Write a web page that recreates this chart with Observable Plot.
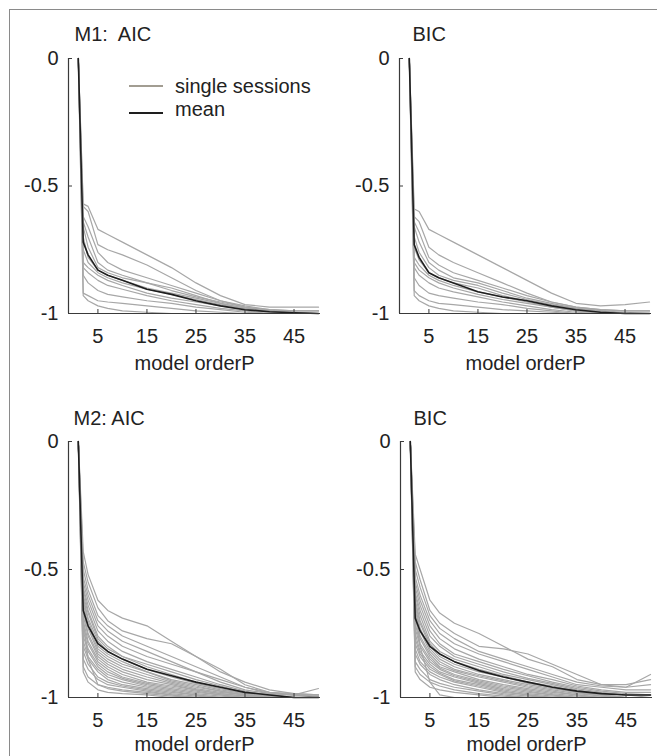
<!DOCTYPE html>
<html>
<head>
<meta charset="utf-8">
<script src="https://cdn.jsdelivr.net/npm/d3@7"></script>
<script src="https://cdn.jsdelivr.net/npm/@observablehq/plot@0.6"></script>
<style>
  html, body { margin: 0; padding: 0; background: #fff; }
  #wrap { position: relative; width: 657px; height: 756px; overflow: hidden; font-family: "Liberation Sans", Arial, sans-serif; }
  #border { position: absolute; left: 9px; top: 9px; width: 700px; height: 800px; border-left: 1px solid #8a8a8a; border-top: 1px solid #8a8a8a; }
  .panel { position: absolute; }
  svg text { white-space: pre; }
  .leg { position: absolute; font-size: 20px; color: #222; white-space: nowrap; }
  .legline { position: absolute; height: 2px; }
</style>
</head>
<body>
<div id="wrap">
  <div id="border"></div>
</div>
<script>
// ---------- data ----------
const X_KNOTS = [1, 2, 3, 5, 7, 10, 15, 20, 25, 30, 35, 40, 45, 50];
const X_TICKS = [5, 15, 25, 35, 45];
const X_TICK_LABELS = ["5", "15", "25", "35", "45"];
const Y_TICKS = [-1, -0.5, 0];
const Y_TICK_LABELS = ["-1", "-0.5", "0"];
const X_LABEL = "model orderP";
const TITLES = ["M1:  AIC", "BIC", "M2: AIC", "BIC"];
const LEGEND_LABELS = ["single sessions", "mean"];

const M1_AIC_SESSIONS = [
  [0,-0.57,-0.58,-0.67,-0.69,-0.72,-0.77,-0.82,-0.88,-0.93,-0.965,-0.975,-0.975,-0.975],
  [0,-0.58,-0.60,-0.73,-0.75,-0.77,-0.81,-0.86,-0.91,-0.95,-0.975,-0.985,-0.99,-0.99],
  [0,-0.62,-0.66,-0.76,-0.80,-0.83,-0.86,-0.89,-0.92,-0.95,-0.97,-0.985,-0.99,-0.99],
  [0,-0.64,-0.70,-0.80,-0.83,-0.85,-0.88,-0.90,-0.93,-0.96,-0.98,-0.99,-0.995,-1],
  [0,-0.66,-0.74,-0.82,-0.84,-0.86,-0.88,-0.91,-0.935,-0.955,-0.975,-0.99,-0.995,-1],
  [0,-0.70,-0.78,-0.83,-0.85,-0.87,-0.90,-0.92,-0.94,-0.96,-0.98,-0.99,-1,-1],
  [0,-0.75,-0.80,-0.84,-0.86,-0.88,-0.905,-0.925,-0.945,-0.965,-0.98,-0.99,-1,-1],
  [0,-0.80,-0.82,-0.85,-0.87,-0.89,-0.92,-0.94,-0.955,-0.97,-0.985,-0.995,-1,-1],
  [0,-0.82,-0.84,-0.87,-0.89,-0.905,-0.93,-0.95,-0.965,-0.98,-0.99,-1,-1,-1],
  [0,-0.85,-0.88,-0.91,-0.925,-0.935,-0.95,-0.96,-0.975,-0.985,-0.995,-1,-1,-1],
  [0,-0.92,-0.93,-0.95,-0.955,-0.96,-0.97,-0.98,-0.99,-0.995,-1,-1,-1,-1],
  [0,-0.93,-0.95,-0.97,-0.98,-0.99,-0.995,-1,-1,-1,-1,-1,-1,-1]
];
const M1_AIC_MEAN = [0,-0.72,-0.77,-0.83,-0.85,-0.87,-0.905,-0.925,-0.95,-0.97,-0.985,-0.993,-0.997,-1];

const M1_BIC_SESSIONS = [
  [0,-0.59,-0.60,-0.67,-0.69,-0.72,-0.77,-0.82,-0.87,-0.92,-0.96,-0.97,-0.965,-0.955],
  [0,-0.62,-0.64,-0.74,-0.77,-0.80,-0.84,-0.88,-0.92,-0.955,-0.975,-0.985,-0.99,-0.99],
  [0,-0.64,-0.68,-0.78,-0.81,-0.84,-0.87,-0.90,-0.93,-0.955,-0.975,-0.985,-0.99,-0.99],
  [0,-0.66,-0.72,-0.80,-0.83,-0.86,-0.88,-0.91,-0.94,-0.96,-0.98,-0.99,-0.995,-1],
  [0,-0.70,-0.76,-0.82,-0.85,-0.87,-0.89,-0.92,-0.945,-0.965,-0.98,-0.99,-1,-1],
  [0,-0.74,-0.79,-0.84,-0.86,-0.88,-0.90,-0.93,-0.95,-0.97,-0.985,-0.99,-1,-1],
  [0,-0.78,-0.81,-0.85,-0.87,-0.89,-0.915,-0.935,-0.955,-0.975,-0.99,-0.995,-1,-1],
  [0,-0.80,-0.83,-0.86,-0.88,-0.90,-0.925,-0.945,-0.96,-0.975,-0.99,-1,-1,-1],
  [0,-0.82,-0.85,-0.88,-0.90,-0.915,-0.935,-0.955,-0.97,-0.985,-0.995,-1,-1,-1],
  [0,-0.86,-0.89,-0.92,-0.93,-0.94,-0.955,-0.965,-0.98,-0.99,-1,-1,-1,-1],
  [0,-0.91,-0.93,-0.95,-0.96,-0.965,-0.975,-0.985,-0.99,-0.995,-1,-1,-1,-1],
  [0,-0.93,-0.95,-0.97,-0.98,-0.99,-0.995,-1,-1,-1,-1,-1,-1,-1]
];
const M1_BIC_MEAN = [0,-0.73,-0.78,-0.84,-0.86,-0.88,-0.915,-0.935,-0.95,-0.97,-0.985,-0.995,-1,-1];

const M2_AIC_SESSIONS = [
  [0,-0.43,-0.52,-0.62,-0.66,-0.69,-0.72,-0.78,-0.84,-0.89,-0.95,-0.98,-0.985,-0.99],
  [0,-0.47,-0.55,-0.65,-0.70,-0.74,-0.77,-0.79,-0.84,-0.90,-0.94,-0.97,-0.985,-0.99],
  [0,-0.50,-0.58,-0.68,-0.72,-0.76,-0.80,-0.84,-0.88,-0.92,-0.96,-0.98,-0.99,-0.99],
  [0,-0.53,-0.60,-0.70,-0.74,-0.78,-0.82,-0.86,-0.90,-0.93,-0.96,-0.985,-0.99,-0.995],
  [0,-0.55,-0.62,-0.72,-0.76,-0.80,-0.84,-0.87,-0.90,-0.94,-0.97,-0.985,-0.99,-0.965],
  [0,-0.57,-0.64,-0.74,-0.78,-0.82,-0.86,-0.89,-0.92,-0.95,-0.975,-0.99,-0.99,-1],
  [0,-0.58,-0.66,-0.76,-0.80,-0.84,-0.87,-0.90,-0.93,-0.955,-0.98,-0.99,-1,-1],
  [0,-0.60,-0.67,-0.77,-0.81,-0.84,-0.88,-0.91,-0.94,-0.96,-0.98,-0.99,-1,-1],
  [0,-0.61,-0.69,-0.78,-0.82,-0.85,-0.89,-0.92,-0.945,-0.965,-0.985,-0.995,-1,-1],
  [0,-0.62,-0.70,-0.80,-0.83,-0.86,-0.90,-0.93,-0.95,-0.97,-0.985,-0.995,-1,-1],
  [0,-0.63,-0.72,-0.81,-0.84,-0.87,-0.90,-0.935,-0.955,-0.975,-0.99,-1,-1,-1],
  [0,-0.65,-0.73,-0.82,-0.85,-0.88,-0.91,-0.94,-0.96,-0.975,-0.99,-1,-1,-1],
  [0,-0.66,-0.75,-0.83,-0.86,-0.89,-0.92,-0.945,-0.965,-0.98,-0.99,-1,-1,-1],
  [0,-0.68,-0.76,-0.84,-0.87,-0.90,-0.93,-0.95,-0.97,-0.985,-0.995,-1,-1,-1],
  [0,-0.70,-0.78,-0.85,-0.88,-0.91,-0.94,-0.955,-0.97,-0.985,-0.995,-1,-1,-1],
  [0,-0.72,-0.79,-0.86,-0.89,-0.92,-0.945,-0.96,-0.975,-0.99,-1,-1,-1,-1],
  [0,-0.74,-0.81,-0.87,-0.90,-0.925,-0.95,-0.965,-0.98,-0.99,-1,-1,-1,-1],
  [0,-0.76,-0.82,-0.88,-0.91,-0.93,-0.955,-0.97,-0.985,-0.995,-1,-1,-1,-1],
  [0,-0.78,-0.84,-0.89,-0.92,-0.94,-0.96,-0.975,-0.99,-1,-1,-1,-1,-1],
  [0,-0.80,-0.85,-0.90,-0.93,-0.95,-0.965,-0.98,-0.99,-1,-1,-1,-1,-1],
  [0,-0.82,-0.87,-0.92,-0.94,-0.955,-0.97,-0.985,-0.995,-1,-1,-1,-1,-1],
  [0,-0.85,-0.89,-0.93,-0.95,-0.96,-0.975,-0.99,-1,-1,-1,-1,-1,-1],
  [0,-0.70,-0.85,-0.95,-0.96,-0.97,-0.98,-0.99,-1,-1,-1,-1,-1,-1],
  [0,-0.88,-0.92,-0.95,-0.965,-0.975,-0.985,-0.995,-1,-1,-1,-1,-1,-1],
  [0,-0.90,-0.94,-0.97,-0.98,-0.985,-0.99,-1,-1,-1,-1,-1,-1,-1]
];
const M2_AIC_MEAN = [0,-0.66,-0.72,-0.79,-0.82,-0.85,-0.89,-0.915,-0.94,-0.96,-0.98,-0.99,-1,-1];

const M2_BIC_SESSIONS = [
  [0,-0.44,-0.50,-0.62,-0.67,-0.71,-0.75,-0.80,-0.85,-0.88,-0.93,-0.95,-0.95,-0.93],
  [0,-0.47,-0.54,-0.66,-0.71,-0.75,-0.80,-0.81,-0.83,-0.87,-0.91,-0.95,-0.96,-0.91],
  [0,-0.50,-0.57,-0.68,-0.73,-0.77,-0.82,-0.85,-0.88,-0.91,-0.94,-0.955,-0.96,-0.95],
  [0,-0.53,-0.60,-0.70,-0.75,-0.79,-0.83,-0.86,-0.89,-0.92,-0.95,-0.96,-0.97,-0.97],
  [0,-0.55,-0.62,-0.72,-0.77,-0.81,-0.85,-0.88,-0.91,-0.93,-0.955,-0.97,-0.98,-0.98],
  [0,-0.57,-0.64,-0.74,-0.79,-0.83,-0.86,-0.89,-0.915,-0.94,-0.96,-0.975,-0.985,-0.99],
  [0,-0.59,-0.66,-0.76,-0.80,-0.84,-0.87,-0.90,-0.925,-0.945,-0.965,-0.98,-0.99,-0.99],
  [0,-0.60,-0.68,-0.78,-0.82,-0.85,-0.88,-0.91,-0.93,-0.95,-0.97,-0.985,-0.99,-1],
  [0,-0.62,-0.70,-0.79,-0.83,-0.86,-0.89,-0.915,-0.94,-0.955,-0.975,-0.99,-1,-1],
  [0,-0.63,-0.71,-0.80,-0.84,-0.87,-0.90,-0.92,-0.945,-0.96,-0.98,-0.99,-1,-1],
  [0,-0.64,-0.73,-0.81,-0.85,-0.88,-0.91,-0.93,-0.95,-0.965,-0.98,-0.995,-1,-1],
  [0,-0.66,-0.74,-0.82,-0.86,-0.89,-0.915,-0.935,-0.955,-0.97,-0.985,-0.995,-1,-1],
  [0,-0.67,-0.76,-0.83,-0.87,-0.895,-0.92,-0.94,-0.96,-0.975,-0.99,-1,-1,-1],
  [0,-0.69,-0.77,-0.84,-0.88,-0.90,-0.93,-0.95,-0.965,-0.98,-0.99,-1,-1,-1],
  [0,-0.71,-0.79,-0.85,-0.885,-0.91,-0.935,-0.955,-0.97,-0.985,-0.995,-1,-1,-1],
  [0,-0.73,-0.80,-0.86,-0.89,-0.915,-0.94,-0.96,-0.975,-0.99,-1,-1,-1,-1],
  [0,-0.75,-0.82,-0.87,-0.90,-0.92,-0.945,-0.965,-0.98,-0.99,-1,-1,-1,-1],
  [0,-0.77,-0.83,-0.88,-0.905,-0.93,-0.95,-0.97,-0.985,-0.995,-1,-1,-1,-1],
  [0,-0.79,-0.84,-0.89,-0.91,-0.935,-0.955,-0.975,-0.99,-1,-1,-1,-1,-1],
  [0,-0.81,-0.86,-0.90,-0.92,-0.94,-0.96,-0.98,-0.99,-1,-1,-1,-1,-1],
  [0,-0.83,-0.87,-0.91,-0.93,-0.95,-0.97,-0.985,-0.995,-1,-1,-1,-1,-1],
  [0,-0.65,-0.80,-0.94,-0.99,-1,-1,-1,-1,-1,-1,-1,-1,-1],
  [0,-0.86,-0.89,-0.93,-0.945,-0.96,-0.975,-0.99,-1,-1,-1,-1,-1,-1],
  [0,-0.88,-0.91,-0.94,-0.955,-0.97,-0.985,-0.995,-1,-1,-1,-1,-1,-1],
  [0,-0.90,-0.93,-0.96,-0.97,-0.98,-0.99,-1,-1,-1,-1,-1,-1,-1]
];
const M2_BIC_MEAN = [0,-0.69,-0.74,-0.80,-0.83,-0.86,-0.895,-0.92,-0.94,-0.96,-0.975,-0.985,-0.99,-0.99];

const X_DOMAIN = [-1, 50.4];
const Y_DOMAIN = [-1, 0];

// ---------- drawing ----------
const SESSION_COLOR = "#a7a7a7";
const MEAN_COLOR = "#1e1e1e";
const AXIS_COLOR = "#3a3a3a";
const FONT = "'Liberation Sans', Arial, Helvetica, sans-serif";

function toRows(sessions) {
  return sessions.flatMap((s, i) => s.map((v, j) => ({x: X_KNOTS[j], y: v, id: i})));
}

function panel(cfg) {
  const rows = toRows(cfg.sessions);
  const meanRows = cfg.mean.map((v, j) => ({x: X_KNOTS[j], y: v}));
  const chart = Plot.plot({
    width: cfg.width,
    height: cfg.height,
    marginLeft: cfg.mL,
    marginRight: cfg.mR,
    marginTop: cfg.mT,
    marginBottom: cfg.mB,
    style: {fontFamily: FONT, fontSize: "20px", color: "#222", background: "transparent", overflow: "visible"},
    x: {domain: X_DOMAIN},
    y: {domain: Y_DOMAIN},
    marks: [
      Plot.line(rows, {x: "x", y: "y", z: "id", stroke: SESSION_COLOR, strokeWidth: 1.2}),
      Plot.line(meanRows, {x: "x", y: "y", stroke: MEAN_COLOR, strokeWidth: 1.6}),
      Plot.ruleY([Y_DOMAIN[0]], {stroke: AXIS_COLOR, strokeWidth: 1.2}),
      Plot.ruleX([X_DOMAIN[0]], {stroke: AXIS_COLOR, strokeWidth: 1.2}),
      Plot.axisX(X_TICKS, {tickSize: -4, tickPadding: 19, stroke: AXIS_COLOR, fill: "#222",
        tickFormat: d => X_TICK_LABELS[X_TICKS.indexOf(d)], label: null}),
      Plot.axisY(Y_TICKS, {tickSize: -4, tickPadding: 14, stroke: AXIS_COLOR, fill: "#222",
        tickFormat: d => Y_TICK_LABELS[Y_TICKS.indexOf(d)], label: null}),
      Plot.text([X_LABEL], {frameAnchor: "bottom", lineAnchor: "middle", dy: cfg.ldy, fill: "#222", fontSize: 20}),
      Plot.text([cfg.title], {frameAnchor: "top-left", lineAnchor: "middle", textAnchor: "start", dx: cfg.tdx, dy: cfg.tdy, fill: "#222", fontSize: 20})
    ]
  });
  chart.classList.add("panel");
  chart.style.left = cfg.left + "px";
  chart.style.top = cfg.top + "px";
  chart.style.position = "absolute";
  return chart;
}

const wrap = document.getElementById("wrap");
const cfgs = [
  {sessions: M1_AIC_SESSIONS, mean: M1_AIC_MEAN, title: TITLES[0], left: 0, top: 0, width: 330, height: 380, mL: 68, mR: 10, mT: 58, mB: 67, tdx: 6, tdy: -24, ldy: 50},
  {sessions: M1_BIC_SESSIONS, mean: M1_BIC_MEAN, title: TITLES[1], left: 330, top: 0, width: 327, height: 380, mL: 69, mR: 6, mT: 58, mB: 67, tdx: 13, tdy: -24, ldy: 50},
  {sessions: M2_AIC_SESSIONS, mean: M2_AIC_MEAN, title: TITLES[2], left: 0, top: 380, width: 330, height: 376, mL: 68, mR: 10, mT: 61, mB: 59, tdx: 5, tdy: -23, ldy: 47},
  {sessions: M2_BIC_SESSIONS, mean: M2_BIC_MEAN, title: TITLES[3], left: 330, top: 380, width: 327, height: 376, mL: 70, mR: 5, mT: 61, mB: 59, tdx: 13, tdy: -23, ldy: 47}
];
cfgs.forEach(c => wrap.appendChild(panel(c)));

// legend (inside first panel)
const legendItems = [
  {label: LEGEND_LABELS[0], color: "#a29d92", lineTop: 85, textTop: 75},
  {label: LEGEND_LABELS[1], color: "#1e1e1e", lineTop: 112, textTop: 98}
];
legendItems.forEach(it => {
  const ln = document.createElement("div");
  ln.className = "legline";
  ln.style.left = "129px"; ln.style.width = "34px"; ln.style.top = it.lineTop + "px";
  ln.style.background = it.color;
  wrap.appendChild(ln);
  const tx = document.createElement("div");
  tx.className = "leg";
  tx.style.left = "175px"; tx.style.top = it.textTop + "px";
  tx.textContent = it.label;
  wrap.appendChild(tx);
});
</script>
</body>
</html>
